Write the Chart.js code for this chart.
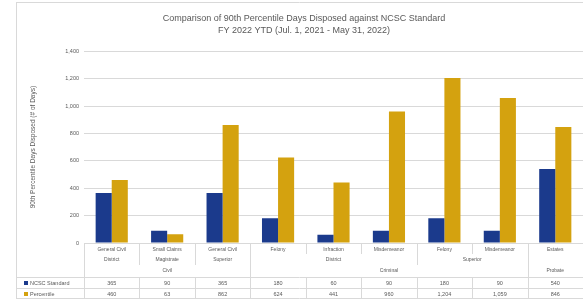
<!DOCTYPE html>
<html>
<head>
<meta charset="utf-8">
<script src="https://cdn.jsdelivr.net/npm/chart.js@4"></script>
<style>
  html, body { margin: 0; padding: 0; background: #fff; }
  #wrap { width: 583px; height: 299px; position: relative; }
</style>
</head>
<body>
<div id="wrap"><canvas id="chart"></canvas></div>
<script>
// --- DATA ---
const categories = ['General Civil', 'Small Claims', 'General Civil', 'Felony', 'Infraction', 'Misdemeanor', 'Felony', 'Misdemeanor', 'Estates'];
const courtLabels = ['District', 'Magistrate', 'Superior', 'District', 'Superior', ''];
const courtSpans = [1, 1, 1, 3, 2, 1];
const caseTypes = ['Civil', 'Criminal', 'Probate'];
const caseTypeSpans = [3, 5, 1];
const ncscStandard = [365, 90, 365, 180, 60, 90, 180, 90, 540];
const percentile90 = [460, 63, 862, 624, 441, 960, 1204, 1059, 846];
const yTicks = [0, 200, 400, 600, 800, 1000, 1200, 1400];

const BLUE = '#1b3a8c';
const GOLD = '#d4a20f';
const TEXT = '#595959';
const LINE = '#d9d9d9';
const FONT = '"Liberation Sans", Arial, sans-serif';

// draws the multi-level category axis and the data table under the plot
const tablePlugin = {
  id: 'tablePlugin',
  afterDraw(chart) {
    const ctx = chart.ctx;
    const x = chart.scales.x;
    const n = categories.length;
    const y0 = x.top;
    const bands = [y0, y0 + 11, y0 + 22, y0 + 34, y0 + 45, y0 + 56];
    const rowLeft = 16;

    const edges = [x.left];
    for (let i = 1; i < n; i++) {
      edges.push((x.getPixelForValue(i - 1) + x.getPixelForValue(i)) / 2);
    }
    edges.push(x.right);

    const cum = spans => {
      const out = [0];
      spans.forEach(s => out.push(out[out.length - 1] + s));
      return out;
    };
    const courtEdges = cum(courtSpans);
    const typeEdges = cum(caseTypeSpans);

    ctx.save();
    ctx.strokeStyle = LINE;
    ctx.lineWidth = 1;
    const vline = (px, a, b) => {
      const p = Math.round(px) + 0.5;
      ctx.beginPath(); ctx.moveTo(p, a); ctx.lineTo(p, b); ctx.stroke();
    };
    const hline = (py, a, b) => {
      const p = Math.round(py) + 0.5;
      ctx.beginPath(); ctx.moveTo(a, p); ctx.lineTo(b, p); ctx.stroke();
    };

    // separators
    for (let i = 0; i <= n; i++) {
      let bottom = bands[1];
      if (courtEdges.includes(i)) bottom = bands[2];
      if (typeEdges.includes(i)) bottom = bands[3];
      vline(edges[i], y0, bottom);
      vline(edges[i], bands[3], bands[5]);
    }
    hline(bands[3], rowLeft, x.right);
    hline(bands[4], rowLeft, x.right);
    hline(bands[5] - 1, rowLeft, x.right);
    vline(rowLeft, 2, bands[5]);
    hline(2, rowLeft, chart.width);

    ctx.fillStyle = TEXT;
    ctx.textAlign = 'center';
    ctx.textBaseline = 'middle';
    ctx.font = '5px ' + FONT;

    categories.forEach((c, i) => {
      ctx.fillText(c, x.getPixelForValue(i), (bands[0] + bands[1]) / 2 + 1);
    });
    courtLabels.forEach((c, k) => {
      const cx = (edges[courtEdges[k]] + edges[courtEdges[k + 1]]) / 2;
      ctx.fillText(c, cx, (bands[1] + bands[2]) / 2);
    });
    caseTypes.forEach((c, k) => {
      const cx = (edges[typeEdges[k]] + edges[typeEdges[k + 1]]) / 2;
      ctx.fillText(c, cx, (bands[2] + bands[3]) / 2);
    });

    // data table rows
    ctx.font = '5.5px ' + FONT;
    const fmt = v => v.toLocaleString('en-US');
    chart.data.datasets.forEach((ds, r) => {
      const cy = (bands[3 + r] + bands[4 + r]) / 2 + 0.5;
      ctx.textAlign = 'center';
      ds.data.forEach((v, i) => ctx.fillText(fmt(v), x.getPixelForValue(i), cy));
      ctx.fillStyle = ds.backgroundColor;
      ctx.fillRect(rowLeft + 8, cy - 2, 4, 4);
      ctx.fillStyle = TEXT;
      ctx.textAlign = 'left';
      ctx.fillText(ds.label, rowLeft + 14, cy);
    });
    ctx.restore();
  }
};

const chart = new Chart(document.getElementById('chart'), {
  type: 'bar',
  data: {
    labels: categories,
    datasets: [
      { label: 'NCSC Standard', data: ncscStandard, backgroundColor: BLUE },
      { label: 'Percentile', data: percentile90, backgroundColor: GOLD }
    ]
  },
  options: {
    responsive: true,
    maintainAspectRatio: false,
    animation: false,
    layout: { padding: { left: 25, right: 0, top: 0, bottom: 0 } },
    datasets: { bar: { categoryPercentage: 0.58, barPercentage: 1.0 } },
    scales: {
      x: {
        ticks: { display: false },
        grid: { display: false },
        border: { color: LINE },
        afterFit(scale) { scale.height = 56; }
      },
      y: {
        min: 0,
        max: 1400,
        afterBuildTicks(scale) { scale.ticks = yTicks.map(v => ({ value: v })); },
        ticks: { color: TEXT, font: { family: FONT, size: 5.5 }, padding: 5 },
        grid: { color: LINE, drawTicks: false },
        border: { display: false },
        title: {
          display: true,
          text: '90th Percentile Days Disposed (# of Days)',
          color: TEXT,
          font: { family: FONT, size: 6.5 }
        },
        afterFit(scale) { scale.width = 59; }
      }
    },
    plugins: {
      legend: { display: false },
      tooltip: { enabled: false },
      title: {
        display: true,
        text: ['Comparison of 90th Percentile Days Disposed against NCSC Standard', 'FY 2022 YTD (Jul. 1, 2021 - May 31, 2022)'],
        color: TEXT,
        font: { family: FONT, size: 9, weight: 'normal', lineHeight: 1.4 },
        padding: { top: 12, bottom: 14 }
      }
    }
  },
  plugins: [tablePlugin]
});
</script>
</body>
</html>
